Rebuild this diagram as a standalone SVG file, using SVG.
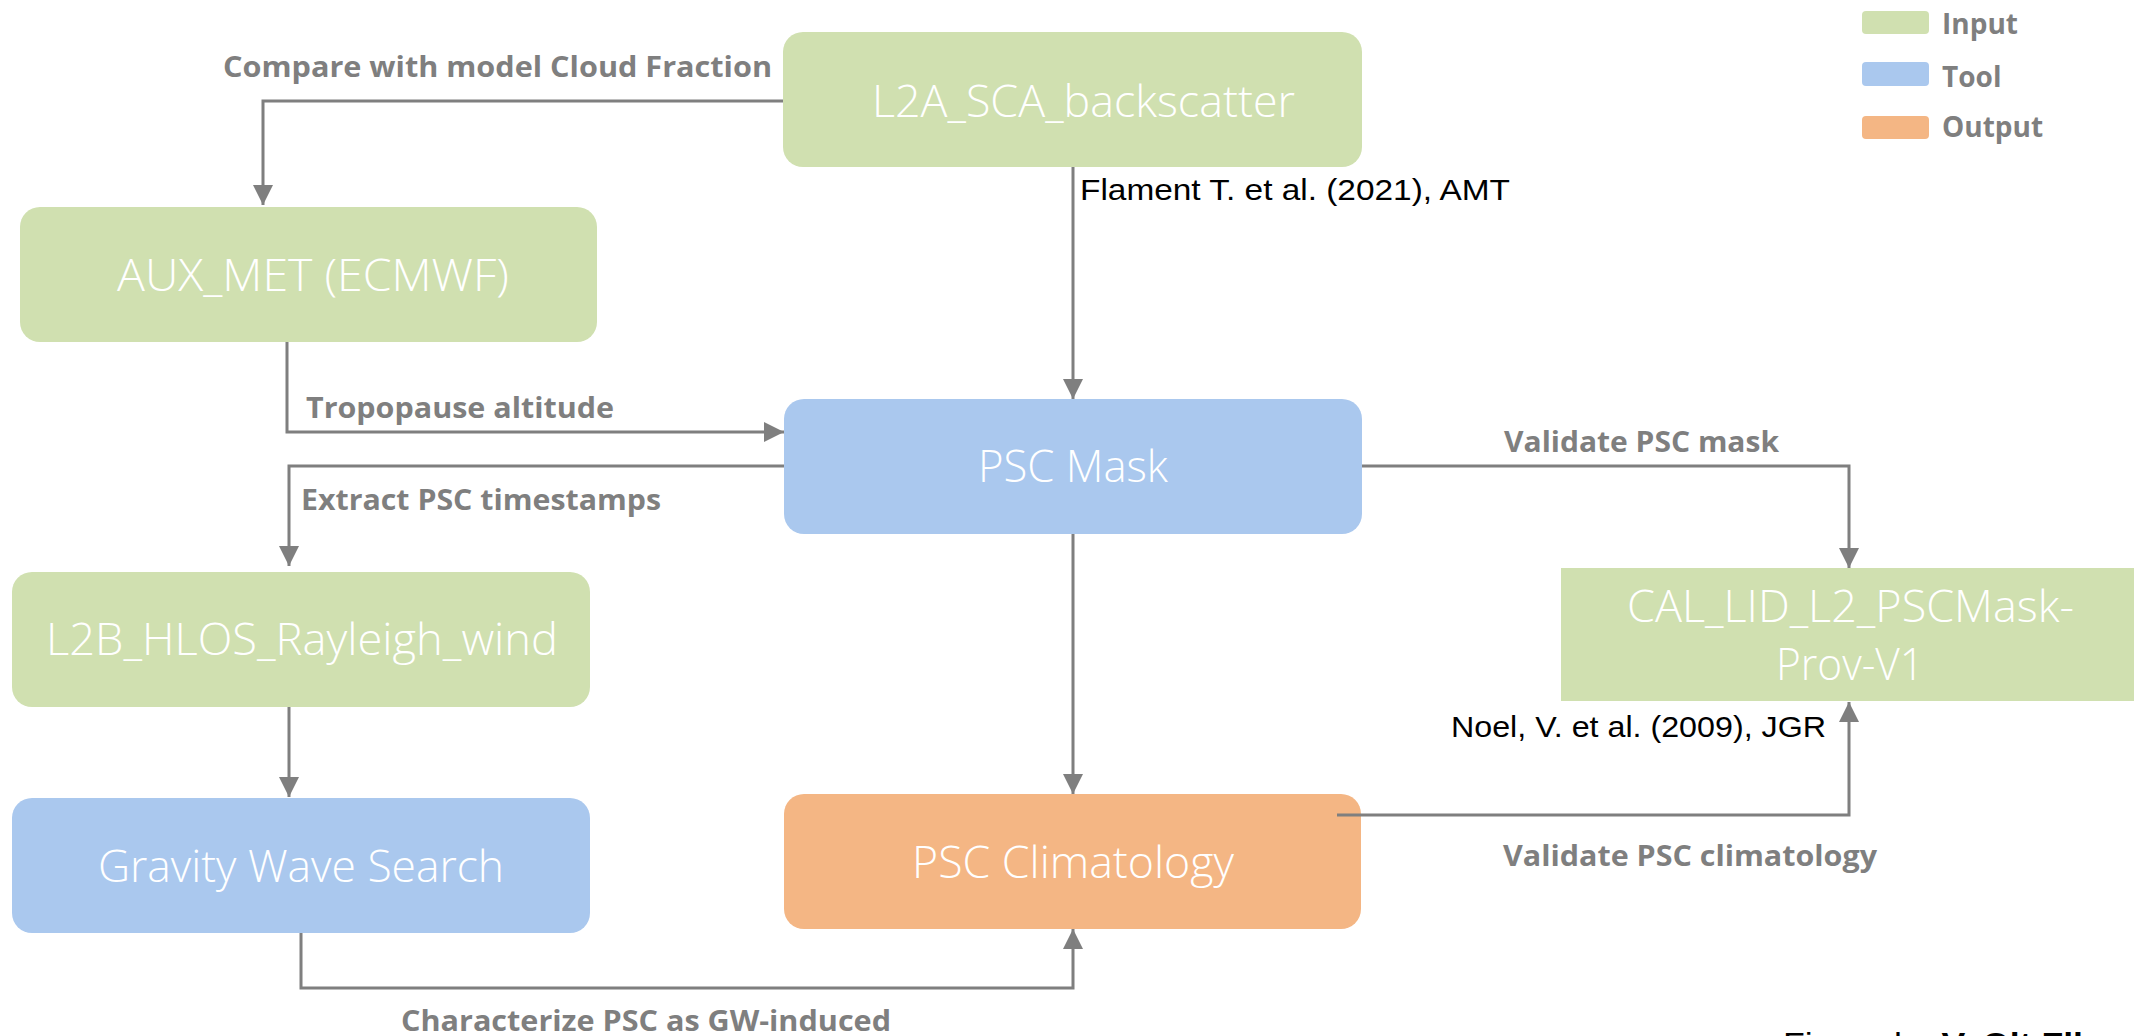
<svg xmlns="http://www.w3.org/2000/svg" width="2134" height="1036" viewBox="0 0 2134 1036">
  <style>
    .input  { fill: #D0E0B0; }
    .tool   { fill: #AAC8EE; }
    .output { fill: #F4B684; }
    .box-text { font-family: "Open Sans", "Liberation Sans", sans-serif; font-weight: 300; font-size: 44px; fill: #FFFFFF; }
    .label { font-family: "Open Sans", "Liberation Sans", sans-serif; font-weight: 700; font-size: 28px; fill: #7F7F7F; }
    .cite  { font-family: "Liberation Sans", "Noto Sans", sans-serif; font-size: 30px; fill: #000000; }
    .legend-text { font-family: "Open Sans", "Liberation Sans", sans-serif; font-weight: 700; font-size: 28px; fill: #7F7F7F; }
    .conn { fill: none; stroke: #7F7F7F; stroke-width: 3; }
    .credit { font-family: "Liberation Sans", Arial, sans-serif; font-size: 32px; fill: #000000; }
  </style>
  <defs>
    <marker id="arrow" markerUnits="userSpaceOnUse" markerWidth="20" markerHeight="20" viewBox="0 0 18 18" refX="18" refY="9" orient="auto">
      <path d="M0,0 L18,9 L0,18 Z" fill="#7F7F7F"/>
    </marker>
  </defs>

  <rect width="2134" height="1036" fill="#FFFFFF"/>

  <!-- Legend -->
  <g id="legend">
    <rect class="input"  x="1862" y="11"  width="67" height="23" rx="4"/>
    <rect class="tool"   x="1862" y="62"  width="67" height="24" rx="4"/>
    <rect class="output" x="1862" y="116" width="67" height="23" rx="4"/>
    <text class="legend-text" x="1942" y="34">Input</text>
    <text class="legend-text" x="1942" y="87">Tool</text>
    <text class="legend-text" x="1942" y="137">Output</text>
  </g>

  <!-- Nodes -->
  <g id="node-l2a">
    <rect class="input" x="783" y="32" width="579" height="135" rx="20"/>
    <text class="box-text" x="872" y="117" textLength="423" lengthAdjust="spacingAndGlyphs">L2A_SCA_backscatter</text>
  </g>
  <g id="node-auxmet">
    <rect class="input" x="20" y="207" width="577" height="135" rx="20"/>
    <text class="box-text" x="117" y="291" textLength="392" lengthAdjust="spacingAndGlyphs">AUX_MET (ECMWF)</text>
  </g>
  <g id="node-pscmask">
    <rect class="tool" x="784" y="399" width="578" height="135" rx="20"/>
    <text class="box-text" x="978" y="482" textLength="190" lengthAdjust="spacingAndGlyphs">PSC Mask</text>
  </g>
  <g id="node-l2b">
    <rect class="input" x="12" y="572" width="578" height="135" rx="20"/>
    <text class="box-text" x="46" y="655" textLength="512" lengthAdjust="spacingAndGlyphs">L2B_HLOS_Rayleigh_wind</text>
  </g>
  <g id="node-gravity">
    <rect class="tool" x="12" y="798" width="578" height="135" rx="20"/>
    <text class="box-text" x="98" y="882" textLength="406" lengthAdjust="spacingAndGlyphs">Gravity Wave Search</text>
  </g>
  <g id="node-climatology">
    <rect class="output" x="784" y="794" width="577" height="135" rx="20"/>
    <text class="box-text" x="912" y="878" textLength="322" lengthAdjust="spacingAndGlyphs">PSC Climatology</text>
  </g>
  <g id="node-calipso">
    <rect class="input" x="1561" y="568" width="573" height="133"/>
    <text class="box-text" x="1627" y="622" textLength="447" lengthAdjust="spacingAndGlyphs">CAL_LID_L2_PSCMask-</text>
    <text class="box-text" x="1776" y="680" textLength="148" lengthAdjust="spacingAndGlyphs">Prov-V1</text>
  </g>

  <!-- Connectors -->
  <g id="connectors">
    <path class="conn" d="M783,101 H263 V205" marker-end="url(#arrow)"/>
    <path class="conn" d="M287,342 V432 H784" marker-end="url(#arrow)"/>
    <path class="conn" d="M1073,167 V399" marker-end="url(#arrow)"/>
    <path class="conn" d="M784,466 H289 V566" marker-end="url(#arrow)"/>
    <path class="conn" d="M1073,534 V794" marker-end="url(#arrow)"/>
    <path class="conn" d="M289,707 V797" marker-end="url(#arrow)"/>
    <path class="conn" d="M301,933 V988 H1073 V929" marker-end="url(#arrow)"/>
    <path class="conn" d="M1362,466 H1849 V568" marker-end="url(#arrow)"/>
    <path class="conn" d="M1337,815 H1849 V702" marker-end="url(#arrow)"/>

    <text class="label" x="223" y="77" textLength="549" lengthAdjust="spacingAndGlyphs">Compare with model Cloud Fraction</text>
    <text class="label" x="306" y="418" textLength="308" lengthAdjust="spacingAndGlyphs">Tropopause altitude</text>
    <text class="label" x="301" y="510" textLength="360" lengthAdjust="spacingAndGlyphs">Extract PSC timestamps</text>
    <text class="label" x="1504" y="452" textLength="275" lengthAdjust="spacingAndGlyphs">Validate PSC mask</text>
    <text class="label" x="1503" y="866" textLength="374" lengthAdjust="spacingAndGlyphs">Validate PSC climatology</text>
    <text class="label" x="401" y="1031" textLength="490" lengthAdjust="spacingAndGlyphs">Characterize PSC as GW-induced</text>
    <text class="cite" x="1080" y="200" textLength="430" lengthAdjust="spacingAndGlyphs">Flament T. et al. (2021), AMT</text>
    <text class="cite" x="1451" y="737" textLength="375" lengthAdjust="spacingAndGlyphs">Noel, V. et al. (2009), JGR</text>
  </g>

  <!-- Credit line, running off the lower edge -->
  <text class="credit" x="1783" y="1055" textLength="300" lengthAdjust="spacingAndGlyphs">Figure by <tspan font-weight="700">V. Olt Fll</tspan></text>
</svg>
